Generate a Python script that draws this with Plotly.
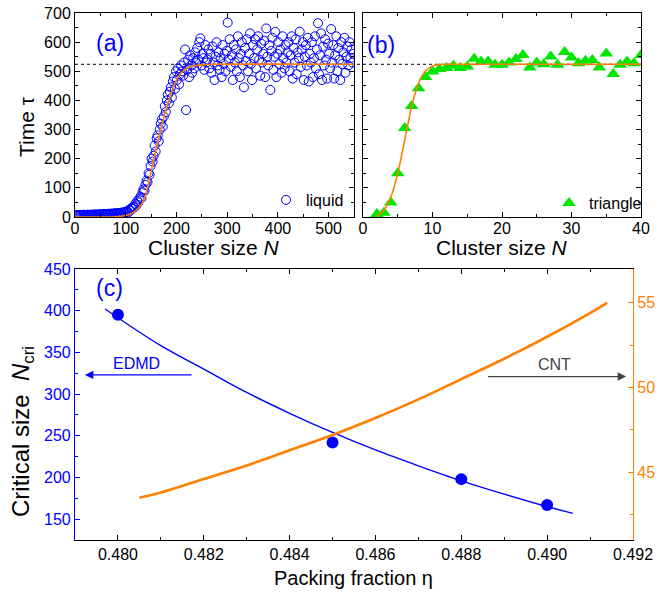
import plotly.graph_objects as go

# ---------------- data ----------------
# panel (a): liquid, sampled every 2 cluster sizes
N_liquid = list(range(1, 550, 2))
tau_liquid = [
    6, 5, 7, 6, 5, 7, 6, 6, 8, 7, 6, 7, 8, 6, 7, 8, 7, 8, 7, 9, 8, 7, 9, 8, 9,
    8, 10, 9, 8, 10, 9, 10, 11, 9, 10, 12, 11, 10, 12, 13, 11, 13, 12, 14, 13, 15, 14, 16, 15, 17,
    18, 20, 16, 25, 22, 30, 28, 35, 33, 45, 40, 55, 50, 62, 70, 65, 85, 95, 90, 110,
    125, 120, 150, 145, 175, 200, 190, 210, 245, 225, 270, 280, 260, 300, 320, 335, 310, 345, 380, 360,
    400, 420, 390, 430, 445, 410, 465, 480, 440, 500, 470, 510, 455, 490, 520, 500, 485, 530, 575, 367,
    505, 540, 480, 555, 520, 495, 545, 510, 565, 530, 580, 540, 600, 613, 520, 560, 545, 505, 590, 530,
    540, 575, 510, 560, 495, 585, 530, 470, 550, 600, 520, 565, 505, 545, 480, 590, 525, 560, 500, 570,
    667, 540, 610, 515, 555, 470, 590, 530, 575, 500, 620, 545, 480, 560, 600, 520, 445, 580, 535, 610,
    500, 560, 630, 525, 470, 590, 545, 610, 510, 575, 620, 540, 485, 595, 530, 560, 605, 480, 647, 550,
    520, 590, 436, 570, 615, 505, 550, 635, 480, 560, 600, 525, 575, 495, 620, 545, 510, 590, 530, 565,
    600, 500, 555, 620, 475, 580, 530, 610, 490, 565, 545, 636, 515, 575, 600, 470, 550, 590, 520, 615,
    465, 560, 530, 600, 480, 545, 620, 510, 575, 665, 490, 555, 630, 470, 585, 520, 610, 540, 475, 595,
    560, 510, 645, 530, 590, 475, 555, 620, 500, 580, 540, 470, 600, 525, 565, 615, 495, 550, 585, 520,
    600, 545, 575, 530, 560,
]
fitA_N = [0, 80, 100, 115, 125, 135, 145, 155, 165, 175, 185, 195, 205, 215, 225, 235, 250, 270, 550]
fitA_tau = [0, 1, 5, 15, 30, 55, 115, 195, 270, 340, 400, 450, 485, 503, 514, 519, 522, 524, 524]

# panel (b): triangle
N_tri = [2, 3, 4, 5, 6, 7, 8, 9, 10, 11, 12, 13, 14, 15, 16, 17, 18, 19, 20, 21,
         22, 23, 24, 25, 26, 27, 28, 29, 30, 31, 32, 33, 34, 35, 36, 37, 38, 39, 40]
tau_tri = [10, 15, 50, 150, 305, 381, 442, 480, 499, 508, 511, 519, 511, 516, 543, 534, 534, 522, 522, 530,
           542, 556, 513, 530, 524, 551, 522, 566, 547, 528, 536, 539, 513, 561, 491, 522, 534, 528, 556]
fitB_N = [2, 3, 4, 5, 6, 7, 8, 9, 10, 11, 12, 40]
fitB_tau = [2, 23, 69, 149, 264, 379, 459, 501, 518, 523, 524, 524]
plateau_tau = 524

# panel (c)
eta_edmd = [0.480, 0.485, 0.488, 0.490]
ncri_edmd = [395, 242, 198, 167]
eta_edmd_fit = [0.4797, 0.481, 0.482, 0.483, 0.484, 0.485, 0.486, 0.487, 0.488, 0.489, 0.490, 0.4906]
ncri_edmd_fit = [402, 358, 330, 302, 277, 254, 233, 214, 196, 180, 165, 157]
eta_cnt = [0.4805, 0.481, 0.482, 0.483, 0.484, 0.485, 0.486, 0.487, 0.488, 0.489, 0.490, 0.491, 0.4914]
ncri_cnt = [43.5, 43.8, 44.6, 45.4, 46.3, 47.2, 48.2, 49.3, 50.5, 51.7, 53.0, 54.4, 55.0]

BLUE = "#0000FF"
ORANGE = "#FF8000"
GREEN = "#00E600"
FONT = "Liberation Sans"

W, H = 672, 593
def px(x):
    return x / W
def py(y):
    return 1 - y / H

fig = go.Figure()

# (a)
fig.add_trace(go.Scatter(x=N_liquid, y=tau_liquid, mode="markers", name="liquid",
                         marker=dict(symbol="circle-open", size=9, color=BLUE, line=dict(width=1, color=BLUE)),
                         xaxis="x", yaxis="y", legend="legend"))
fig.add_trace(go.Scatter(x=fitA_N, y=fitA_tau, mode="lines", line=dict(color=ORANGE, width=1.6, shape="spline", smoothing=0.6),
                         showlegend=False, xaxis="x", yaxis="y"))
# (b)
fig.add_trace(go.Scatter(x=N_tri, y=tau_tri, mode="markers", name="triangle",
                         marker=dict(symbol="triangle-up", size=12, color=GREEN, line=dict(width=0)),
                         xaxis="x2", yaxis="y2", legend="legend2"))
fig.add_trace(go.Scatter(x=fitB_N, y=fitB_tau, mode="lines", line=dict(color=ORANGE, width=1.6, shape="spline", smoothing=0.6),
                         showlegend=False, xaxis="x2", yaxis="y2"))
# (c)
fig.add_trace(go.Scatter(x=eta_edmd_fit, y=ncri_edmd_fit, mode="lines", line=dict(color=BLUE, width=1.4, shape="spline"),
                         showlegend=False, xaxis="x3", yaxis="y3"))
fig.add_trace(go.Scatter(x=eta_edmd, y=ncri_edmd, mode="markers", marker=dict(symbol="circle", size=12, color=BLUE),
                         showlegend=False, xaxis="x3", yaxis="y3"))
fig.add_trace(go.Scatter(x=eta_cnt, y=ncri_cnt, mode="lines", line=dict(color=ORANGE, width=2.6, shape="spline"),
                         showlegend=False, xaxis="x3", yaxis="y4"))

tickfont = dict(family=FONT, size=16, color="black")
common = dict(showline=True, linecolor="black", linewidth=1, ticks="inside", ticklen=5, tickcolor="black",
              showgrid=False, zeroline=False, tickfont=tickfont, automargin=False)

domA = [px(75), px(354)]
domB = [px(363), px(641)]
domAB_y = [py(217), py(13)]
domC = [px(75), px(633)]
domC_y = [py(540), py(269)]

fig.update_layout(
    width=W, height=H, autosize=False,
    margin=dict(l=0, r=0, t=0, b=0, autoexpand=False),
    paper_bgcolor="white", plot_bgcolor="rgba(0,0,0,0)",
    font=dict(family=FONT, color="black"),
    xaxis=dict(domain=domA, range=[0, 550], dtick=100, tick0=0, mirror="ticks", anchor="y",
               ticklabelstandoff=-3,
               minor=dict(dtick=50, ticklen=3, ticks="inside", tickcolor="black"), **common),
    yaxis=dict(domain=domAB_y, range=[0, 700], dtick=100, tick0=0, mirror="ticks", anchor="x",
               minor=dict(dtick=50, ticklen=3, ticks="inside", tickcolor="black"), **common),
    xaxis2=dict(domain=domB, range=[0, 40], dtick=10, tick0=0, mirror="ticks", anchor="y2",
                ticklabelstandoff=-3,
                minor=dict(dtick=5, ticklen=3, ticks="inside", tickcolor="black"), **common),
    yaxis2=dict(domain=domAB_y, range=[0, 700], dtick=100, tick0=0, mirror="ticks", anchor="x2",
                showticklabels=False,
                minor=dict(dtick=50, ticklen=3, ticks="inside", tickcolor="black"), **common),
    xaxis3=dict(domain=domC, range=[0.479, 0.492], dtick=0.002, tick0=0.48, tickformat=".3f", mirror="ticks",
                anchor="y3", minor=dict(dtick=0.001, ticklen=3, ticks="inside", tickcolor="black"), **common),
    yaxis3=dict(domain=domC_y, range=[125, 450], dtick=50, tick0=0, anchor="x3", automargin=False,
                showline=True, linecolor=BLUE, linewidth=1.2, ticks="inside", ticklen=5, tickcolor=BLUE,
                showgrid=False, zeroline=False, tickfont=dict(family=FONT, size=16, color=BLUE),
                minor=dict(dtick=25, ticklen=3, ticks="inside", tickcolor=BLUE)),
    yaxis4=dict(domain=domC_y, range=[41, 57], dtick=5, tick0=0, anchor="x3", overlaying="y3", side="right",
                automargin=False,
                showline=True, linecolor=ORANGE, linewidth=1.2, ticks="inside", ticklen=5, tickcolor=ORANGE,
                showgrid=False, zeroline=False, tickfont=dict(family=FONT, size=16, color=ORANGE),
                minor=dict(dtick=2.5, ticklen=3, ticks="inside", tickcolor=ORANGE)),
    legend=dict(x=px(266), y=py(200), xanchor="left", yanchor="middle", bgcolor="rgba(0,0,0,0)",
                xref="container", yref="container",
                font=dict(family=FONT, size=16, color="black"), itemsizing="trace", tracegroupgap=0),
    legend2=dict(x=px(549), y=py(203), xanchor="left", yanchor="middle", bgcolor="rgba(0,0,0,0)",
                 xref="container", yref="container",
                 font=dict(family=FONT, size=16, color="black"), itemsizing="trace"),
    showlegend=True,
)

# plateau dotted line spanning panels (a) and (b)
fig.add_shape(type="line", xref="paper", yref="y", x0=domA[0], x1=domB[1], y0=plateau_tau, y1=plateau_tau,
              line=dict(color="black", width=1, dash="dot"), layer="below")

ann = []
ttl = dict(family=FONT, size=21, color="black")
ann.append(dict(text="Time τ", x=px(26), y=py(127), xref="paper", yref="paper", showarrow=False,
                textangle=-90, font=ttl, xanchor="center", yanchor="middle"))
ann.append(dict(text="Cluster size <i>N</i>", x=px(214), y=py(247), xref="paper", yref="paper", showarrow=False,
                font=ttl, xanchor="center", yanchor="middle"))
ann.append(dict(text="Cluster size <i>N</i>", x=px(502), y=py(247), xref="paper", yref="paper", showarrow=False,
                font=ttl, xanchor="center", yanchor="middle"))
ann.append(dict(text="Packing fraction η", x=px(353), y=py(578), xref="paper", yref="paper", showarrow=False,
                font=dict(family=FONT, size=20, color="black"), xanchor="center", yanchor="middle"))
ann.append(dict(text="Critical size  <i>N</i><sub>cri</sub>", x=px(22), y=py(432), xref="paper", yref="paper",
                showarrow=False, textangle=-90, font=dict(family=FONT, size=24, color="black"),
                xanchor="center", yanchor="middle"))
lab = dict(family=FONT, size=23, color=BLUE)
ann.append(dict(text="(a)", x=px(94), y=py(28), xref="paper", yref="paper", showarrow=False, font=lab))
ann.append(dict(text="(b)", x=px(381), y=py(30), xref="paper", yref="paper", showarrow=False, font=lab))
ann.append(dict(text="(c)", x=px(94), y=py(288), xref="paper", yref="paper", showarrow=False, font=lab))

# arrows
ann.append(dict(x=0.47923, y=323, ax=0.48175, ay=323, xref="x3", yref="y3", axref="x3", ayref="y3",
                text="", showarrow=True, arrowhead=2, arrowsize=1.3, arrowwidth=1.3, arrowcolor=BLUE))
ann.append(dict(x=0.48044, y=337, xref="x3", yref="y3", text="EDMD", showarrow=False,
                font=dict(family=FONT, size=16, color=BLUE)))
ann.append(dict(x=0.49184, y=321, ax=0.48859, ay=321, xref="x3", yref="y3", axref="x3", ayref="y3",
                text="", showarrow=True, arrowhead=2, arrowsize=1.3, arrowwidth=1.3, arrowcolor="#444444"))
ann.append(dict(x=0.49018, y=336, xref="x3", yref="y3", text="CNT", showarrow=False,
                font=dict(family=FONT, size=16, color="#444444")))
fig.update_layout(annotations=ann)

fig.write_html("out.html")
